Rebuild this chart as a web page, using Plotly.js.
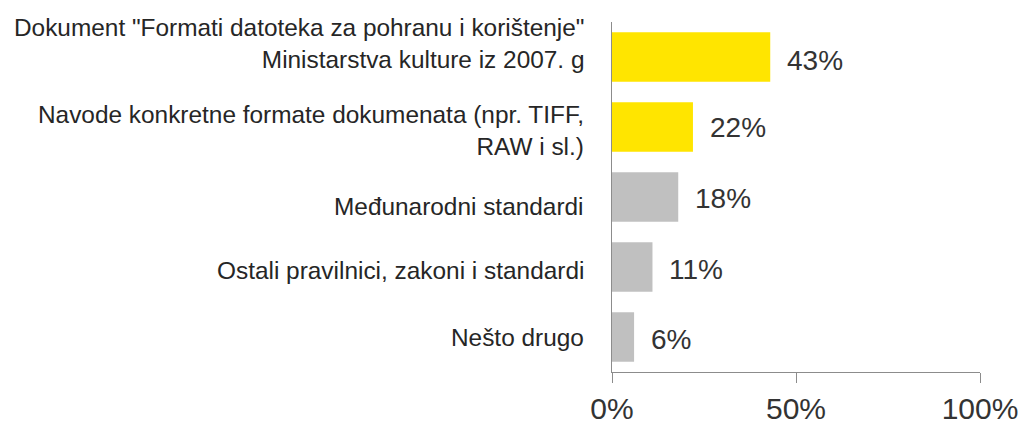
<!DOCTYPE html>
<html>
<head>
<meta charset="utf-8">
<script src="https://cdn.plot.ly/plotly-3.0.1.min.js"></script>
<style>html,body{margin:0;padding:0;background:#fff;}#chart{width:1022px;height:424px;}</style>
</head>
<body>
<div id="chart"></div>
<script>
const categories = [
  'Dokument "Formati datoteka za pohranu i korištenje"<br>Ministarstva kulture iz 2007. g',
  'Navode konkretne formate dokumenata (npr. TIFF,<br>RAW i sl.)',
  'Međunarodni standardi',
  'Ostali pravilnici, zakoni i standardi',
  'Nešto drugo'
];
const values = [43, 22, 18, 11, 6];
const barColors = ['#FFE500', '#FFE500', '#C0C0C0', '#C0C0C0', '#C0C0C0'];
const xTickVals = [0, 50, 100];
const xTickText = ['0%', '50%', '100%'];
// vertical nudges of the category labels (px, positive = up)
const labelShift = [14, -3, -9, -3, 0];
const valueShift = [-3, 0, -1, -2, -2];

const trace = {
  type: 'bar',
  orientation: 'h',
  y: categories,
  x: values,
  marker: {color: barColors},
  width: 0.71,
  hoverinfo: 'none'
};

const font = 'Liberation Sans, Arial, sans-serif';
const valueAnn = values.map((v, i) => ({
  x: v, y: categories[i], xref: 'x', yref: 'y',
  text: v + '%', showarrow: false, xanchor: 'left', xshift: 15, yshift: valueShift[i],
  font: {family: font, size: 28, color: '#333333'}
}));
const catAnn = categories.map((c, i) => ({
  x: 0, y: c, xref: 'paper', yref: 'y',
  text: c, showarrow: false, xanchor: 'right', align: 'right', xshift: -26, yshift: labelShift[i],
  font: {family: font, size: 24.4, color: '#262626'}
}));

const layout = {
  width: 1022, height: 424,
  margin: {l: 612, r: 42, t: 22, b: 52},
  paper_bgcolor: '#ffffff', plot_bgcolor: '#ffffff',
  showlegend: false,
  xaxis: {
    range: [0, 100], tickvals: xTickVals, ticktext: xTickText,
    showgrid: false, zeroline: false, showline: true, linecolor: '#8c8c8c', linewidth: 1,
    ticks: 'outside', ticklen: 10, tickcolor: '#8c8c8c', tickwidth: 1,
    tickfont: {family: font, size: 30, color: '#333333'},
    fixedrange: true
  },
  yaxis: {
    autorange: 'reversed', showgrid: false, zeroline: false,
    showline: true, linecolor: '#8c8c8c', linewidth: 1, ticks: '',
    showticklabels: false,
    fixedrange: true
  },
  annotations: valueAnn.concat(catAnn)
};

Plotly.newPlot('chart', [trace], layout, {displayModeBar: false, staticPlot: true});
</script>
</body>
</html>
